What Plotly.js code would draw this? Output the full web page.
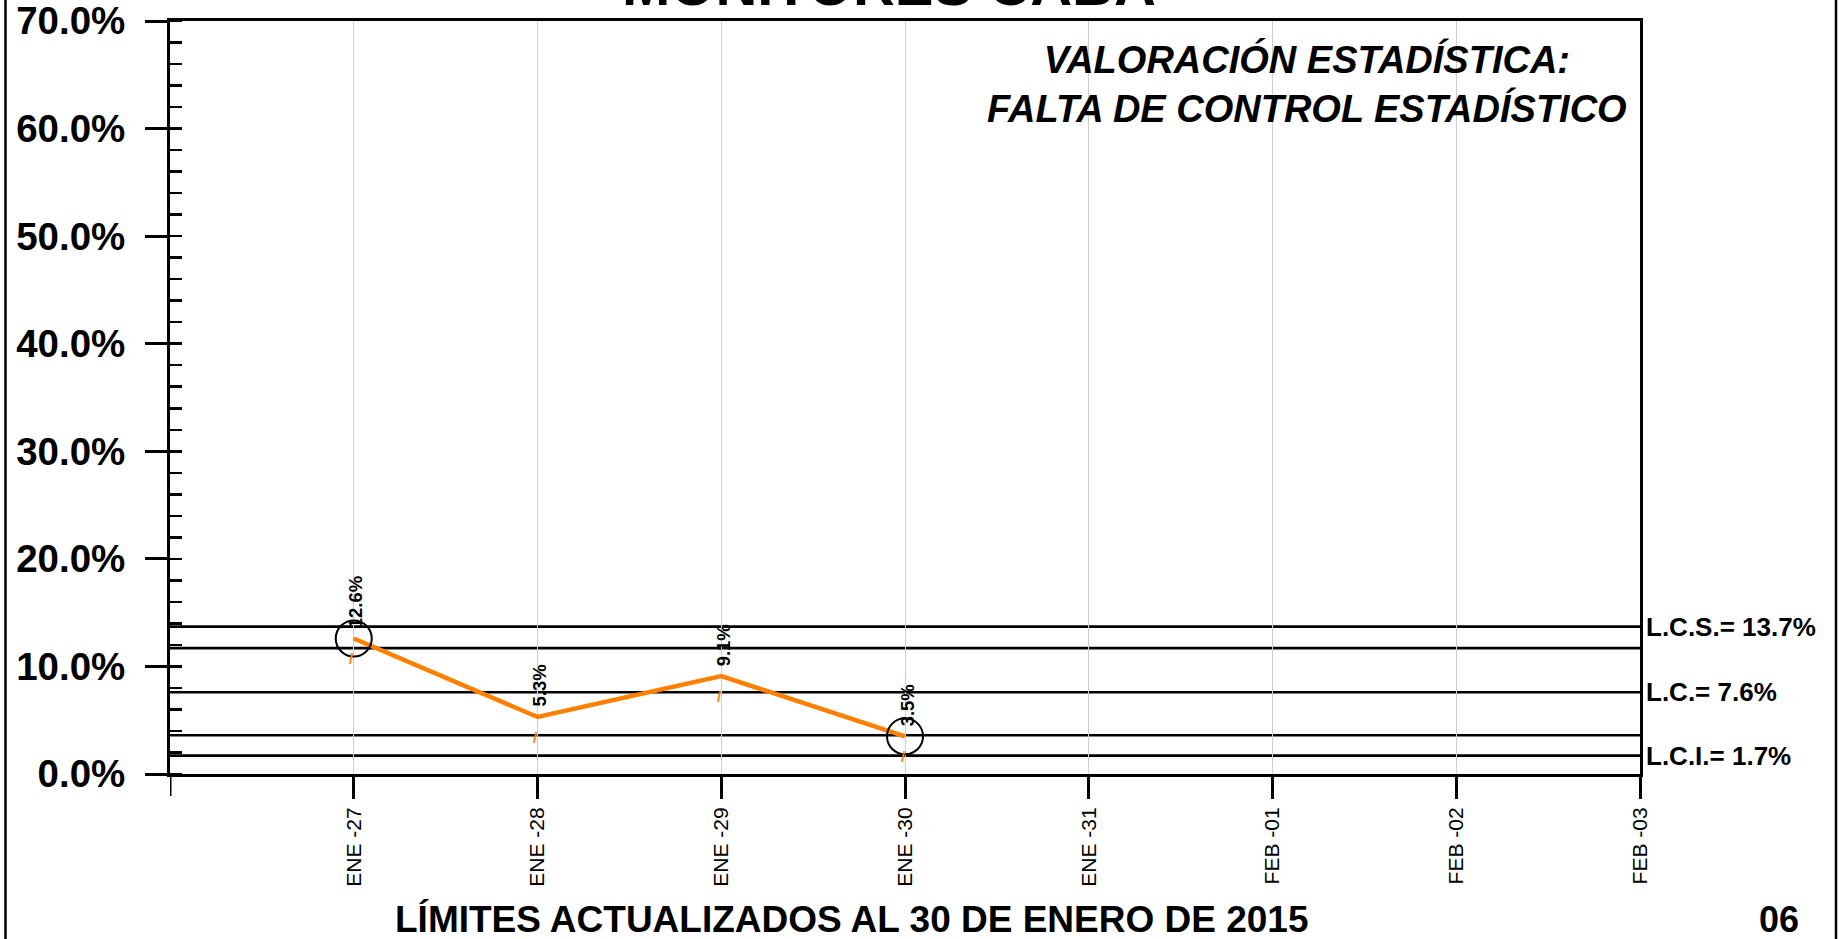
<!DOCTYPE html>
<html>
<head>
<meta charset="utf-8">
<script src="https://cdn.plot.ly/plotly-3.0.1.min.js"></script>
<style>html,body{margin:0;padding:0;background:#fff;}#chart{width:1839px;height:939px;}</style>
</head>
<body>
<div id="chart"></div>
<script>
// ---- data ----
const categories = ['ENE -27','ENE -28','ENE -29','ENE -30','ENE -31','FEB -01','FEB -02','FEB -03'];
const dataDates = ['ENE -27','ENE -28','ENE -29','ENE -30'];
const dataValues = [12.6, 5.3, 9.1, 3.5];
const limitValues = [13.7, 11.7, 7.6, 3.6, 1.7];          // LCS, upper 2σ, LC, lower 2σ, LCI
const limitLabels = ['L.C.S.= 13.7%', '', 'L.C.= 7.6%', '', 'L.C.I.= 1.7%'];
const yTickVals = [0, 10, 20, 30, 40, 50, 60, 70];
const titleText = 'MONITORES CABA';
const noteText = 'VALORACIÓN ESTADÍSTICA:<br>FALTA DE CONTROL ESTADÍSTICO';
const footerText = 'LÍMITES ACTUALIZADOS AL 30 DE ENERO DE 2015';
const pageText = '06';

// ---- layout geometry ----
const W = 1839, H = 939;
const M = {l: 170, r: 199, t: 21, b: 165};
const PW = W - M.l - M.r, PH = H - M.t - M.b;
const px = x => (x - M.l) / PW;          // pixel -> paper x
const py = y => (H - M.b - y) / PH;      // pixel -> paper y

const FONT = 'Liberation Sans, Arial, sans-serif';
const ORANGE = '#FF8000';

// flagged points: outside the 2-sigma band
const upper2 = limitValues[1], lower2 = limitValues[3];
const flagX = [], flagY = [];
dataValues.forEach((v, i) => { if (v > upper2 || v < lower2) { flagX.push(dataDates[i]); flagY.push(v); } });

const traces = [
  {
    x: dataDates, y: dataValues, type: 'scatter', mode: 'lines',
    line: {color: ORANGE, width: 4.5}, hoverinfo: 'x+y', showlegend: false
  },
  {
    x: flagX, y: flagY, type: 'scatter', mode: 'markers',
    marker: {symbol: 'circle-open', size: 36, color: '#000', line: {width: 2, color: '#000'}},
    hoverinfo: 'skip', showlegend: false
  }
];

const shapes = limitValues.map(v => ({
  type: 'line', xref: 'paper', yref: 'y', x0: 0, x1: 1, y0: v, y1: v,
  line: {color: '#000', width: 2.7}, layer: 'below'
}));
// axis-start tick below the zero line
shapes.push({type: 'line', xref: 'x', yref: 'paper', x0: -1, x1: -1, y0: 0, y1: -22 / PH, line: {color: '#000', width: 3}});
// outer frame verticals
shapes.push({type: 'line', xref: 'paper', yref: 'paper', x0: px(5.5), x1: px(5.5), y0: py(H), y1: py(0), line: {color: '#000', width: 2.5}});
shapes.push({type: 'line', xref: 'paper', yref: 'paper', x0: px(1836), x1: px(1836), y0: py(H), y1: py(0), line: {color: '#000', width: 2.5}});

const annotations = [];
// data labels (rotated)
dataValues.forEach((v, i) => {
  annotations.push({
    x: dataDates[i], y: v, xref: 'x', yref: 'y', text: v.toFixed(1) + '%',
    textangle: -90, showarrow: false, yanchor: 'bottom', xanchor: 'center', yshift: 8, xshift: 2,
    font: {family: FONT, size: 18.5, color: '#000', weight: 'bold'}
  });
  annotations.push({
    x: dataDates[i], y: v, xref: 'x', yref: 'y', text: '/',
    showarrow: false, yanchor: 'top', xanchor: 'center', yshift: -10, xshift: -2,
    font: {family: FONT, size: 15, color: ORANGE, weight: 'bold'}
  });
});
// limit labels
limitValues.forEach((v, i) => {
  if (!limitLabels[i]) return;
  annotations.push({
    x: 1, xref: 'paper', xshift: 4, y: v, yref: 'y', text: limitLabels[i],
    showarrow: false, xanchor: 'left', yanchor: 'middle',
    font: {family: FONT, size: 26, color: '#000', weight: 'bold'}
  });
});
// title (mostly cut off at top)
annotations.push({
  x: px(889), y: 1, xref: 'paper', yref: 'paper', yanchor: 'bottom', xanchor: 'center', yshift: 2,
  text: titleText, showarrow: false, font: {family: FONT, size: 58, color: '#000', weight: 'bold'}
});
// assessment note
annotations.push({
  x: px(1307), y: py(36), xref: 'paper', yref: 'paper', yanchor: 'top', xanchor: 'center',
  text: noteText, showarrow: false, align: 'center',
  font: {family: FONT, size: 38, color: '#000', weight: 'bold', style: 'italic'}
});
// footer
annotations.push({
  x: px(852), y: py(919), xref: 'paper', yref: 'paper', yanchor: 'middle', xanchor: 'center',
  text: footerText, showarrow: false, font: {family: FONT, size: 37, color: '#000', weight: 'bold'}
});
annotations.push({
  x: px(1779), y: py(919), xref: 'paper', yref: 'paper', yanchor: 'middle', xanchor: 'center',
  text: pageText, showarrow: false, font: {family: FONT, size: 36, color: '#000', weight: 'bold'}
});

const layout = {
  width: W, height: H,
  margin: M,
  paper_bgcolor: '#fff', plot_bgcolor: '#fff',
  showlegend: false,
  font: {family: FONT, color: '#000'},
  xaxis: {
    type: 'category', categoryorder: 'array', categoryarray: categories,
    range: [-1, categories.length - 1],
    ticks: 'outside', ticklen: 22, tickwidth: 3, tickcolor: '#000',
    showline: true, linewidth: 3, linecolor: '#000', mirror: true,
    showgrid: true, gridcolor: '#cfcfcf', gridwidth: 1,
    zeroline: false, tickangle: -90,
    tickfont: {family: FONT, size: 21, color: '#000'},
    fixedrange: true
  },
  yaxis: {
    range: [0, 70], tickmode: 'array', tickvals: yTickVals,
    ticktext: yTickVals.map(v => v.toFixed(1) + '%'),
    ticks: 'outside', ticklen: 22, tickwidth: 3, tickcolor: '#000',
    showline: true, linewidth: 3, linecolor: '#000', mirror: true,
    showgrid: false, zeroline: false,
    ticklabelstandoff: 12, ticklabeloverflow: 'allow',
    tickfont: {family: FONT, size: 38.5, color: '#000', weight: 'bold'},
    minor: {ticks: 'inside', ticklen: 12, tickwidth: 2.5, tickcolor: '#000', dtick: 2, tick0: 0, showgrid: false},
    fixedrange: true
  },
  shapes: shapes,
  annotations: annotations
};

Plotly.newPlot('chart', traces, layout, {displayModeBar: false, staticPlot: true});
</script>
</body>
</html>
